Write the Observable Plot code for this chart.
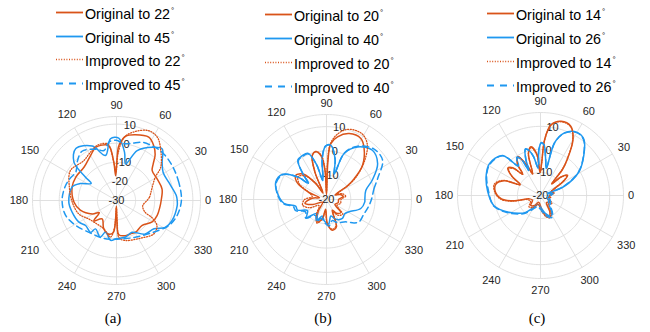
<!DOCTYPE html>
<html>
<head>
<meta charset="utf-8">
<script src="https://cdn.jsdelivr.net/npm/d3@7"></script>
<script src="https://cdn.jsdelivr.net/npm/@observablehq/plot@0.6"></script>
<style>
  body { margin: 0; background: #fff; }
  #fig { position: relative; width: 650px; height: 332px; overflow: hidden; background: #fff;
         font-family: "Liberation Sans", Arial, sans-serif; }
  .panel { position: absolute; }
  .leg { position: absolute; height: 12px; white-space: nowrap; font-size: 14.3px; color: #000; }
  .leg svg { position: absolute; left: 0; top: 0; overflow: visible; }
  .leg span { position: absolute; top: 0; line-height: 12px; }
  .leg sup { font-size: 8px; vertical-align: 6px; line-height: 0; margin-left: 1px; }
  .cap { position: absolute; font-family: "Liberation Serif", "Times New Roman", serif; font-size: 15px;
         transform: translate(-50%, -50%); color: #000; }
</style>
</head>
<body>
<div id="fig"></div>
<script>
// ---- data: [angle in degrees, gain in dB] ----
const thetaTicks = [0, 30, 60, 90, 120, 150, 180, 210, 240, 270, 300, 330];

// (a) steering to 22° and 45°
const aLimits = [-30, 14];
const aTicks = [-30, -20, -10, 0, 10];
const aOriginal22 = [[0,-6.6],[14,-5.4],[28,-5.9],[40,-5.6],[45,-2.8],[50,1.5],[56,4.8],[63,7.2],[74,5.8],[82,4],[86,0.6],[88,-2],[90,-12],[92,-17],[94,-10],[97,-2],[99.5,-0.5],[111,-0.1],[120,-2.8],[134,-5.6],[150,-5.4],[163,-5.7],[182,-7.7],[195,-10.4],[209,-15.5],[215,-19],[222,-14],[232,-17.8],[245,-14],[255,-12],[264,-13],[267,-20],[269,-27],[271,-20],[274,-12],[284,-11],[295,-11],[301,-10.6],[316,-11.3],[329,-8.2],[340,-7.3],[352,-7]];
const aOriginal45 = [[0,1.8],[5,1.4],[19,-1],[31,-1.5],[40,1.2],[48.5,6.1],[56,3.6],[67.5,-1.7],[76,-10.3],[80.6,-4.3],[88,2.7],[95.6,2.5],[103.7,-5.7],[114,1.2],[128,4.6],[138,0],[143,-9.7],[146,-14],[155,-9],[163,-5.7],[182,-5],[195,-6],[210,-7.3],[219,-9.2],[231,-8.5],[233.5,-11.5],[246,-9],[251,-12.5],[261.5,-8.9],[270,-10],[284,-10.3],[296,-11.5],[310,-7],[323,-5.4],[331,-0.8],[340,0.9],[355,1.9]];
const aImproved22 = [[0,-14],[6,-12.6],[18,-10.6],[31,-6.3],[37,-1],[49.6,5.6],[57,9.4],[65,10.3],[74.6,7.5],[83,3.4],[88,-5],[91,-15],[94,-10],[99,0],[109,0.6],[118,-1.2],[130,-3],[147,-1.2],[164,-4.3],[182,-6.8],[199.5,-9],[213.5,-12.5],[230,-14],[246,-13.7],[260.7,-10.6],[266,-16],[269,-26],[272,-18],[274,-10.3],[283,-8.5],[302.5,-6.6],[318,-3.8],[328,-5],[334,-9.2],[338,-14],[349,-16]];
const aImproved45 = [[0,4],[16,4],[32,4.4],[46.6,4.8],[56,4.2],[66,3.4],[75,1],[83,0],[90,1.5],[97,1],[104,-3],[112,-1],[125,1.5],[135,-1],[145,-4],[155,-3],[165,-2.1],[180,-1.5],[196,-2.2],[211,-4.9],[234,-8.4],[250,-9],[262,-9.5],[278,-9.7],[297,-8.4],[325,-2.8],[334.5,0.4],[346,2.7]];

// (b) steering to 20° and 40°
const bLimits = [-20, 15];
const bTicks = [-20, -10, 0, 10];
const bOriginal20 = [[0,-15],[10,-13],[20,-14],[28,-16],[33,-10],[37,-5.7],[43.6,0.5],[53.6,6.1],[60.6,8.8],[71,8.7],[80,6.2],[85.6,3.1],[88,-5],[90,-18],[93,-8],[97,-2],[102.6,0.1],[108,-1],[113,-8],[118,-17],[124,-12],[132,-6],[141.6,-3.9],[150,-6],[158,-12],[165,-17],[175,-14],[190,-11],[200,-14],[215,-18],[235,-14],[248,-10],[258,-12],[265,-16],[272,-10],[281,-7.1],[290,-8],[298,-15],[306,-13],[318,-12],[330,-16],[345,-15]];
const bOriginal40 = [[0,-4.2],[13,-3.4],[23,0.5],[35,5.7],[47,7.7],[59.5,5.1],[69,0.3],[73,-9],[78,-3],[85.4,2.4],[91,2],[96,-3],[101,-12],[106,-5],[112,0.5],[119,0.6],[126,0.1],[133,-6],[138,-10],[142,-5],[150,0.8],[161,2.1],[173,0.3],[185.4,-2.5],[192,-7],[200,-7.3],[210,-11],[222,-9],[235,-13],[246,-10.7],[255,-13],[265,-11],[275,-10],[285,-13],[295,-11],[310,-9.8],[322,-10.5],[331.5,-9.4],[345.3,-5.4],[356.5,-4.2]];
const bImproved20 = [[0,-14],[10,-12],[20,-13],[28,-15],[33,-9],[38,-4],[45,2],[53,8],[60,10.5],[66,10.9],[74,10],[81,7],[86,3],[88.5,-5],[90,-17],[93,-7],[97,-1.5],[102.6,0.3],[108,-1],[113,-8],[118,-16],[124,-12],[132,-7],[141,-5],[150,-7],[158,-12],[168,-14],[180,-11],[193,-9.9],[205,-12],[220,-16],[235,-13],[248,-9.5],[258,-12],[265,-15],[272,-10],[281,-7.5],[290,-8.5],[298,-14],[306,-12],[318,-11],[330,-15],[345,-14]];
const bImproved40 = [[0,-1.5],[13,0.1],[23,3],[35,8.2],[47,8.5],[59.5,5.5],[69,0.5],[73,-9],[78,-3],[85.4,2.4],[91,2],[96,-3],[101,-12],[106,-5],[112,0.3],[119,0.3],[126,-0.3],[133,-6],[138,-10],[142,-5],[150,0.5],[161,1.8],[173,0.5],[185,-2],[192,-6],[200,-6.5],[210,-10],[222,-8.5],[235,-12],[246,-10],[255,-12],[265,-10.5],[275,-9],[285,-11],[295,-9.5],[311,-7.8],[320,-5],[326,-3.7],[338,-3.5],[350,-2.5]];

// (c) steering to 14° and 26°
const cLimits = [-20, 16];
const cTicks = [-20, -10, 0, 10];
const cOriginal14 = [[0,-16],[10,-14],[20,-15],[26,-13.2],[32,-8],[37,-5.3],[42,-8],[46,-13],[50,-5],[53.7,-0.2],[60,8.2],[66.4,12.8],[74.5,13.4],[81.4,11.1],[85.7,4.5],[88,-6],[91,-10],[95,-2],[101,1.5],[106,-1],[110,-10],[114,-6],[120,-0.5],[126,-3],[130,-8],[135,-3],[140,-1.5],[146,-5],[152,-10],[158,-3],[166,0],[175,-0.3],[185,-3],[191,-8],[197,-15],[210,-16],[225,-14],[240,-15],[255,-17],[275,-14],[285,-11],[294,-10.4],[300,-12],[310,-16],[325,-15],[340,-17],[350,-16]];
const cOriginal26 = [[0,-16],[10,-15],[15,-17],[21,-9],[31.7,-0.4],[42.8,5.6],[52.4,10.8],[60,11.6],[69,9.1],[75,3.8],[78,-8],[82,-4],[86,2],[89,3],[92,0],[95,-8],[100,-3],[104,0],[108,1.3],[112,-3],[115,-8],[118,-2],[122,-0.5],[127,-4],[133.6,4],[148,6.1],[159,5.2],[175.4,3],[192.7,0.6],[208,-4.5],[220,-8],[228,-10],[240,-14],[255,-16],[270,-15],[285,-12],[298,-10],[305,-12],[315,-15],[330,-16],[345,-17]];
const cImproved14 = [[0,-16],[10,-14.5],[20,-15],[26,-13.5],[32,-8.5],[37,-5.6],[42,-8],[46,-13],[50,-5.5],[53.7,-0.5],[60,8],[66.4,12.6],[74.5,13.2],[81.4,11],[85.7,4.2],[88,-6],[91,-10],[95,-2.5],[101,1.2],[106,-1],[110,-10],[114,-6],[120,-0.8],[126,-3],[130,-8],[135,-3.5],[140,-2],[146,-5],[152,-10],[158,-2.5],[166,0.6],[175,0],[185,-2.5],[191,-7],[197,-14],[210,-15],[225,-13],[240,-14],[255,-16],[275,-13],[285,-10.5],[292,-9.5],[300,-11],[310,-15],[325,-14],[340,-16],[350,-15.5]];
const cImproved26 = [[0,-15.5],[10,-14.5],[15,-16],[21,-9.5],[31.7,-0.6],[42.8,5.4],[52.4,10.6],[60,11.5],[69,9],[75,3.6],[78,-8],[82,-4],[86,2],[89,2.8],[92,0],[95,-8],[100,-3],[104,0],[108,1],[112,-3],[115,-8],[118,-2],[122,-0.7],[127,-4],[133.6,3.8],[148,5.8],[159,5],[175.4,2.6],[192.7,0.8],[208,-4],[220,-7.5],[228,-9.5],[240,-13],[255,-15],[270,-14],[285,-11],[298,-9.2],[305,-11],[315,-14],[330,-15],[345,-16]];

// legend angles and panel captions
const aAngles = [22, 45];
const bAngles = [20, 40];
const cAngles = [14, 26];
const captions = ["(a)", "(b)", "(c)"];

// ---- styling ----
const ORANGE = "#D95319";
const BLUE = "#1f98f0";
const styles = [
  {stroke: ORANGE, strokeWidth: 1.5, dash: null},
  {stroke: BLUE, strokeWidth: 1.5, dash: null},
  {stroke: ORANGE, strokeWidth: 1.3, dash: "1,1.6"},
  {stroke: BLUE, strokeWidth: 1.5, dash: "6,4"}
];
const FONT = "'Liberation Sans', Arial, sans-serif";
const rad = a => a * Math.PI / 180;

function polarPanel({limits, ticks, series, radius, size}) {
  const [rMin, rMax] = limits;
  const span = rMax - rMin;
  const perPx = span / radius;                       // dB per pixel
  const px = (r, a) => Math.max(r - rMin, 0) * Math.cos(rad(a));
  const py = (r, a) => Math.max(r - rMin, 0) * Math.sin(rad(a));
  const ringLevels = ticks.filter(t => t > rMin).concat([rMax]);
  const ringPts = ringLevels.flatMap(level => d3.range(0, 361, 2).map(a => ({level, a})));
  // angle labels sit just outside the rim; the offset grows with the text's extent along that direction
  const labelR = t => {
    const halfW = String(t).length * 3.06, halfH = 7;
    const gap = 4.5 + Math.abs(Math.cos(rad(t))) * halfW + Math.abs(Math.sin(rad(t))) * halfH;
    return rMax + gap * perPx;
  };
  return Plot.plot({
    width: size, height: size, margin: size / 2 - radius,
    x: {domain: [-span, span], axis: null},
    y: {domain: [-span, span], axis: null},
    style: {background: "transparent", fontFamily: FONT, overflow: "visible"},
    marks: [
      Plot.line(ringPts, {x: d => px(d.level, d.a), y: d => py(d.level, d.a), z: "level",
        stroke: "#dcdcdc", strokeWidth: 0.9}),
      Plot.link(thetaTicks, {x1: t => px(rMin, t), y1: t => py(rMin, t),
        x2: t => px(rMax, t), y2: t => py(rMax, t), stroke: "#dcdcdc", strokeWidth: 0.9}),
      Plot.text(thetaTicks, {x: t => px(labelR(t), t), y: t => py(labelR(t), t), text: t => String(t),
        fontSize: 11, fill: "#262626"}),
      Plot.text(ticks, {x: t => px(t, 80), y: t => py(t, 80), text: t => String(t),
        fontSize: 11, fill: "#262626"}),
      ...series.map((data, i) => Plot.line(data, {
        x: d => px(d[1], d[0]), y: d => py(d[1], d[0]),
        curve: "catmull-rom-closed", stroke: styles[i].stroke, strokeWidth: styles[i].strokeWidth,
        strokeDasharray: styles[i].dash, strokeLinejoin: "round"
      }))
    ]
  });
}

const fig = document.getElementById("fig");
const SIZE = 220;
const panels = [
  {limits: aLimits, ticks: aTicks, series: [aOriginal22, aOriginal45, aImproved22, aImproved45],
   radius: 84, cx: 116, cy: 199.5, angles: aAngles, legX: 56, rows: [13.5, 37.5, 61, 85]},
  {limits: bLimits, ticks: bTicks, series: [bOriginal20, bOriginal40, bImproved20, bImproved40],
   radius: 85, cx: 326, cy: 199, angles: bAngles, legX: 265, rows: [15.5, 39.5, 63.5, 87.5]},
  {limits: cLimits, ticks: cTicks, series: [cOriginal14, cOriginal26, cImproved14, cImproved26],
   radius: 83, cx: 540, cy: 195, angles: cAngles, legX: 487, rows: [15, 39, 62.5, 86.5]}
];

panels.forEach((p, k) => {
  const holder = document.createElement("div");
  holder.className = "panel";
  holder.style.left = (p.cx - SIZE / 2) + "px";
  holder.style.top = (p.cy - SIZE / 2) + "px";
  holder.appendChild(polarPanel({...p, size: SIZE}));
  fig.appendChild(holder);

  // legend
  const names = [`Original to ${p.angles[0]}`, `Original to ${p.angles[1]}`,
                 `Improved to ${p.angles[0]}`, `Improved to ${p.angles[1]}`];
  names.forEach((name, i) => {
    const row = document.createElement("div");
    row.className = "leg";
    row.style.left = p.legX + "px";
    row.style.top = (p.rows[i] - 6) + "px";
    const s = styles[i];
    row.innerHTML =
      `<svg width="28" height="12"><line x1="0" x2="27" y1="4.5" y2="4.5" stroke="${s.stroke}" stroke-width="${s.strokeWidth + 0.3}"` +
      (s.dash ? ` stroke-dasharray="${i === 3 ? "7,6" : "1,1.6"}"` : "") + `/></svg>` +
      `<span style="left:29px">${name}<sup>°</sup></span>`;
    fig.appendChild(row);
  });

  const cap = document.createElement("div");
  cap.className = "cap";
  cap.textContent = captions[k];
  cap.style.left = (p.cx - 3) + "px";
  cap.style.top = "318px";
  fig.appendChild(cap);
});
</script>
</body>
</html>
